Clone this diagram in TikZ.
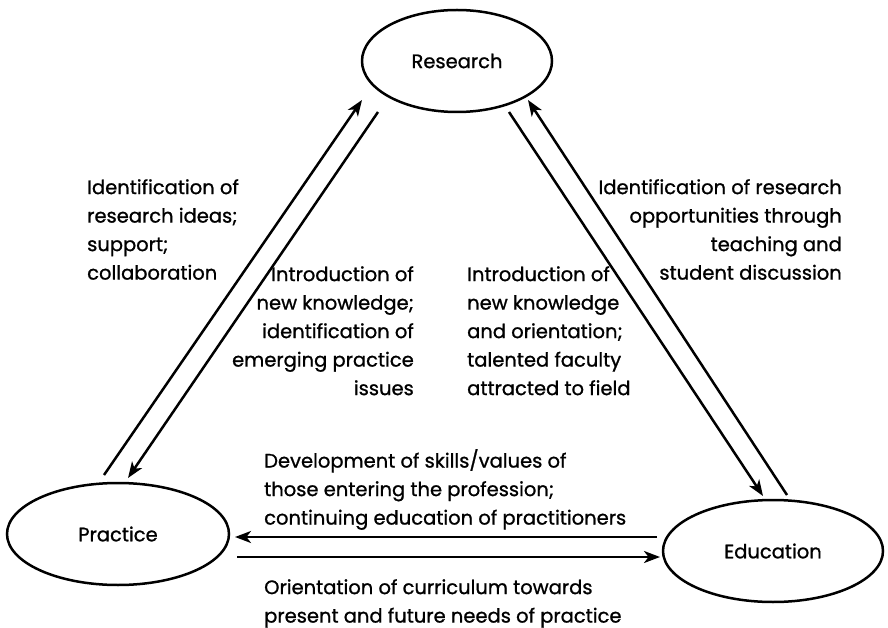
\documentclass[tikz,border=0pt]{standalone}
\usepackage{fontspec}
\setmainfont{Poppins}[FakeBold=1]
\usetikzlibrary{arrows.meta,shapes.geometric}
\begin{document}
\begin{tikzpicture}[x=1pt,y=-1pt,
  oval/.style={draw,ellipse,line width=2.5pt,inner sep=0pt,font=\fontsize{19.5}{24}\selectfont},
  flow/.style={line width=2.5pt,-{Stealth[length=16pt,width=12pt,inset=4.5pt]}},
  lbl/.style={inner sep=0pt,font=\fontsize{19.5}{28.5}\selectfont}]
\useasboundingbox (0,0) rectangle (888,628);
% ovals
\node[oval,minimum width=190pt,minimum height=102pt] (R) at (457,61) {Research};
\node[oval,minimum width=222pt,minimum height=102pt] (P) at (118,534) {Practice};
\node[oval,minimum width=220pt,minimum height=102pt] (E) at (773,551) {Education};
% connector end points
\coordinate (pUp)   at (104,475); \coordinate (rUpL)  at (362,100);
\coordinate (rDnL)  at (378,112); \coordinate (pDn)   at (128,478);
\coordinate (rDnR)  at (509,112); \coordinate (eDn)   at (763,496);
\coordinate (eUp)   at (787,495); \coordinate (rUpR)  at (528,100);
\coordinate (eLeft) at (657,537); \coordinate (pIn)   at (235,537);
\coordinate (pOut)  at (237,557); \coordinate (eIn)   at (660,557);
% connectors
\draw[flow] (pUp) -- (rUpL);
\draw[flow] (rDnL) -- (pDn);
\draw[flow] (rDnR) -- (eDn);
\draw[flow] (eUp) -- (rUpR);
\draw[flow] (eLeft) -- (pIn);
\draw[flow] (pOut) -- (eIn);
% labels
\node[lbl,anchor=north west,align=left] (tPR) at (87,179)
  {Identification of\\research ideas;\\support;\\collaboration};
\node[lbl,anchor=north east,align=right] (tRP) at (414,266)
  {Introduction of\\new knowledge;\\identification of\\emerging practice\\issues};
\node[lbl,anchor=north west,align=left] (tRE) at (467,266)
  {Introduction of\\new knowledge\\and orientation;\\talented faculty\\attracted to field};
\node[lbl,anchor=north east,align=right] (tER) at (842,179)
  {Identification of research\\opportunities through\\teaching and\\student discussion};
\node[lbl,anchor=north west,align=left] (tEP) at (264,449)
  {Development of skills/values of\\those entering the profession;\\continuing education of practitioners};
\node[lbl,anchor=north west,align=left] (tPE) at (264,579)
  {Orientation of curriculum towards\\present and future needs of practice};
\end{tikzpicture}
\end{document}
